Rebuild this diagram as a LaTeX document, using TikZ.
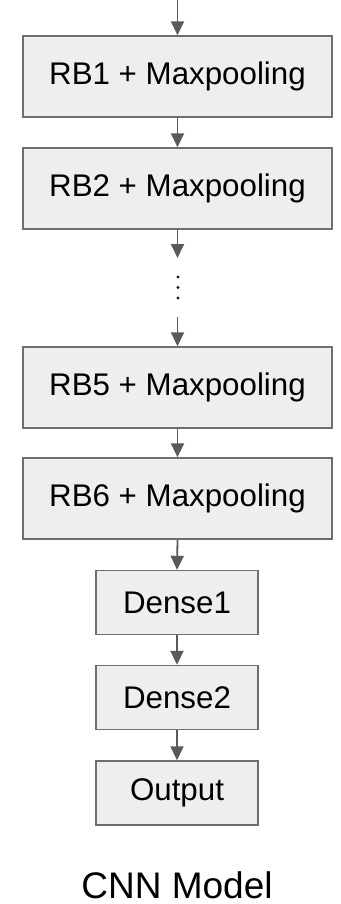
\documentclass[tikz,border=0pt]{standalone}
\usepackage{fontspec}
\setmainfont{Liberation Sans}
\usetikzlibrary{arrows.meta}
\definecolor{boxfill}{HTML}{EEEEEE}
\definecolor{boxline}{HTML}{6E6E6E}
\definecolor{arrowgray}{HTML}{5A5A5A}
\definecolor{dotcol}{HTML}{1E1028}
\tikzset{
  layer/.style={draw=boxline, fill=boxfill, line width=1.4pt, inner sep=0pt,
    minimum width=309pt, minimum height=81pt,
    font=\fontsize{31.3}{37}\selectfont},
  dense/.style={layer, minimum width=162pt, minimum height=64pt},
  flow/.style={draw=arrowgray, line width=1.8pt,
    -{Triangle[length=14pt,width=13pt]}},
  vdot/.style={fill=dotcol, draw=none}
}
\begin{document}
\begin{tikzpicture}[x=1pt, y=-1pt]
  \useasboundingbox (0,0) rectangle (340,904);

  % layer stack
  \node[layer] (rb1) at (177.5,76.5) {RB1 + Maxpooling};
  \node[layer] (rb2) at (177.5,188.5) {RB2 + Maxpooling};
  \node[layer] (rb5) at (177.5,387.5) {RB5 + Maxpooling};
  \node[layer] (rb6) at (177.5,498.5) {RB6 + Maxpooling};
  \node[dense] (d1) at (177,602.5) {Dense1};
  \node[dense] (d2) at (177,697.5) {Dense2};
  \node[dense] (out) at (177,793) {Output};

  % caption (no descenders, so its depth is dropped)
  \node[inner sep=0pt, anchor=base, font=\fontsize{37}{44}\selectfont]
    (title) at (177,898) {\raisebox{0pt}[\height][0pt]{CNN Model}};

  % free ends of the connectors
  \coordinate (in) at (rb1.north |- 0,0);
  \coordinate (gapA) at (rb2.south |- 0,258);
  \coordinate (gapB) at (rb5.north |- 0,317);

  % elided layers
  \fill[vdot] (178,277) circle (1.6pt);
  \fill[vdot] (178,287.5) circle (1.6pt);
  \fill[vdot] (178,298) circle (1.6pt);

  % connectors
  \draw[flow] (in) -- (rb1.north);
  \draw[flow] (rb1.south) -- (rb2.north);
  \draw[flow] (rb2.south) -- (gapA);
  \draw[flow] (gapB) -- (rb5.north);
  \draw[flow] (rb5.south) -- (rb6.north);
  \draw[flow] (rb6.south) -- (d1.north);
  \draw[flow] (d1.south) -- (d2.north);
  \draw[flow] (d2.south) -- (out.north);
\end{tikzpicture}
\end{document}
